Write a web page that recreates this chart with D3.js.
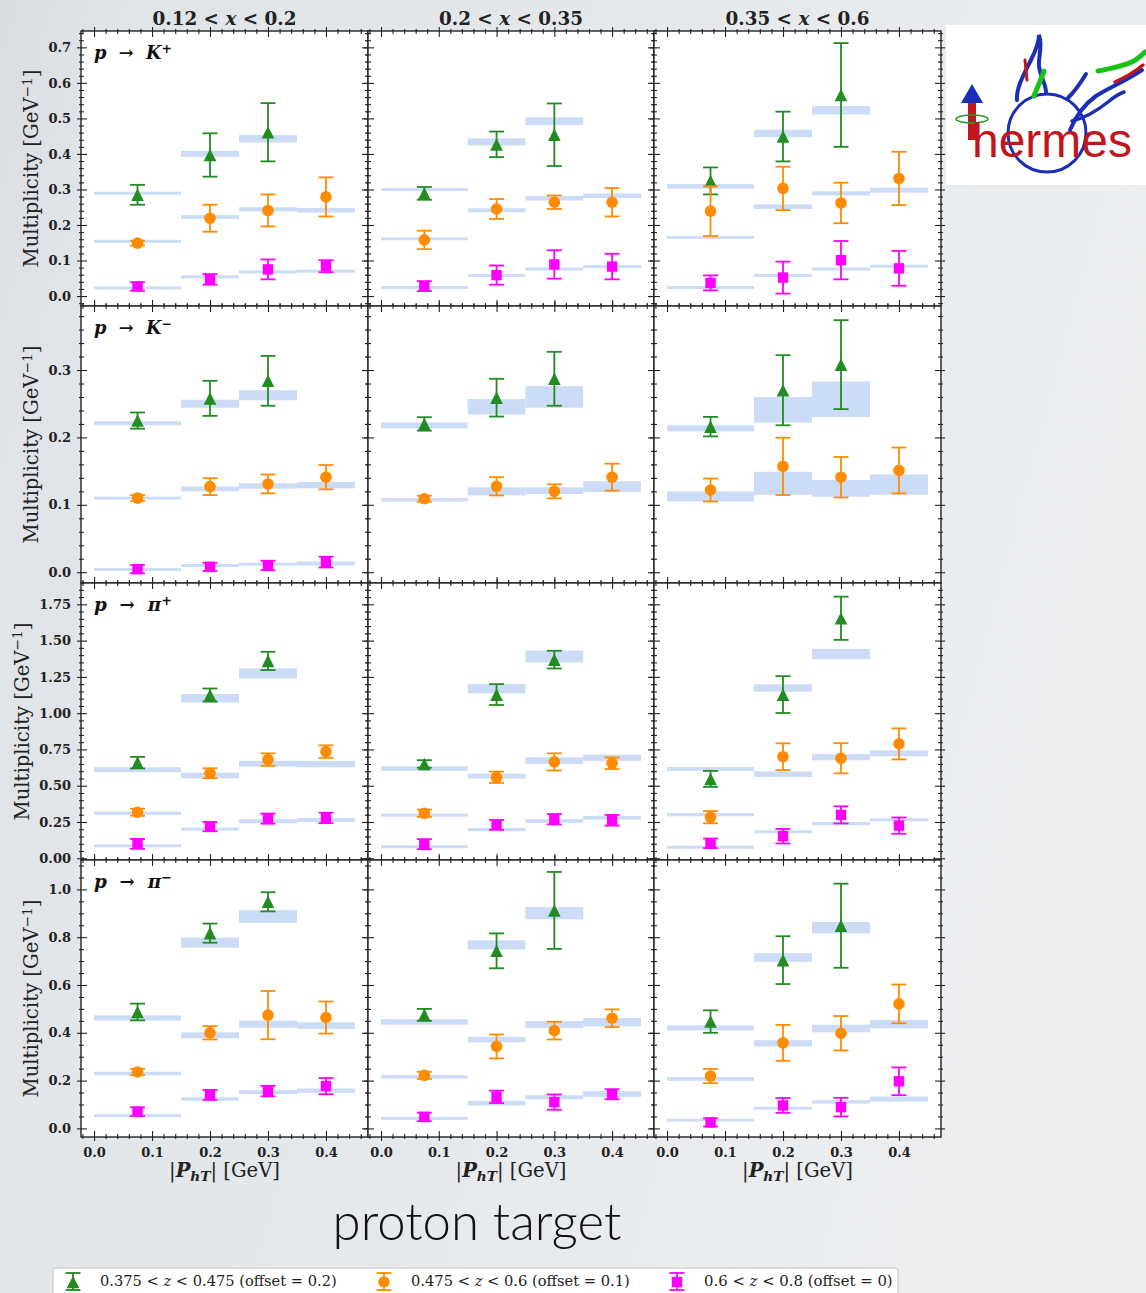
<!DOCTYPE html>
<html>
<head>
<meta charset="utf-8">
<script src="https://cdn.jsdelivr.net/npm/d3@7"></script>
<style>
  body { margin: 0; background: #e6e8eb; }
  svg { display: block; }
</style>
</head>
<body>
<div id="chart"></div>
<script>
// ---- data (values are multiplicities without the plotting offset) ----
const xBins = [[0.12, 0.2], [0.2, 0.35], [0.35, 0.6]];
const ptEdges = [0, 0.15, 0.25, 0.35, 0.45];
const ptCenters = [0.075, 0.2, 0.3, 0.4];
const zBins = [["0.375", "0.475"], ["0.475", "0.6"], ["0.6", "0.8"]];
const zOffsets = [0.2, 0.1, 0];
const xTicks = [0, 0.1, 0.2, 0.3, 0.4];

// hadron labels: [symbol, charge]
const hadrons = [["K", "+"], ["K", "\u2212"], ["\u03c0", "+"], ["\u03c0", "\u2212"]];
const yTicks = [
  [0, 0.1, 0.2, 0.3, 0.4, 0.5, 0.6, 0.7],
  [0, 0.1, 0.2, 0.3],
  [0, 0.25, 0.5, 0.75, 1.0, 1.25, 1.5, 1.75],
  [0, 0.2, 0.4, 0.6, 0.8, 1.0]
];

// layout: [xbin][zbin][ptbin]
// p -> K+
const kpVal = [
  [[0.085, 0.197, 0.261, null], [0.049, 0.119, 0.141, 0.179], [0.027, 0.047, 0.075, 0.084]],
  [[0.089, 0.227, 0.254, null], [0.058, 0.145, 0.164, 0.164], [0.028, 0.059, 0.089, 0.083]],
  [[0.124, 0.249, 0.366, null], [0.139, 0.203, 0.162, 0.231], [0.037, 0.052, 0.101, 0.078]]
];
const kpErr = [
  [[0.028, 0.061, 0.082, null], [0.007, 0.038, 0.045, 0.055], [0.012, 0.015, 0.028, 0.017]],
  [[0.018, 0.036, 0.088, null], [0.026, 0.028, 0.019, 0.040], [0.014, 0.027, 0.040, 0.036]],
  [[0.038, 0.070, 0.146, null], [0.070, 0.061, 0.057, 0.075], [0.021, 0.045, 0.054, 0.049]]
];
const kpModelLo = [
  [[0.087, 0.192, 0.232, null], [0.052, 0.117, 0.138, 0.135], [0.021, 0.052, 0.066, 0.068]],
  [[0.097, 0.224, 0.281, null], [0.059, 0.136, 0.169, 0.176], [0.022, 0.056, 0.074, 0.081]],
  [[0.102, 0.247, 0.311, null], [0.061, 0.145, 0.183, 0.191], [0.022, 0.056, 0.074, 0.082]]
];
const kpModelHi = [
  [[0.092, 0.209, 0.253, null], [0.056, 0.128, 0.150, 0.148], [0.025, 0.056, 0.070, 0.072]],
  [[0.102, 0.244, 0.303, null], [0.063, 0.147, 0.182, 0.189], [0.026, 0.060, 0.078, 0.085]],
  [[0.115, 0.268, 0.335, null], [0.069, 0.158, 0.195, 0.205], [0.026, 0.060, 0.078, 0.086]]
];

// p -> K-
const kmVal = [
  [[0.025, 0.058, 0.084, null], [0.010, 0.027, 0.031, 0.041], [0.0045, 0.008, 0.010, 0.015]],
  [[0.020, 0.059, 0.087, null], [0.009, 0.0275, 0.020, 0.041], [null, null, null, null]],
  [[0.016, 0.070, 0.108, null], [0.022, 0.057, 0.041, 0.051], [null, null, null, null]]
];
const kmErr = [
  [[0.012, 0.026, 0.037, null], [0.0045, 0.0125, 0.014, 0.018], [0.006, 0.006, 0.007, 0.008]],
  [[0.010, 0.028, 0.040, null], [0.0045, 0.0136, 0.0104, 0.020], [null, null, null, null]],
  [[0.0145, 0.052, 0.066, null], [0.017, 0.0425, 0.030, 0.034], [null, null, null, null]]
];
const kmModelLo = [
  [[0.018, 0.044, 0.055, null], [0.009, 0.020, 0.024, 0.0245], [0.003, 0.009, 0.011, 0.010]],
  [[0.0135, 0.034, 0.044, null], [0.005, 0.014, 0.016, 0.019], [null, null, null, null]],
  [[0.009, 0.022, 0.030, null], [0.005, 0.015, 0.012, 0.015], [null, null, null, null]]
];
const kmModelHi = [
  [[0.024, 0.056, 0.070, null], [0.011, 0.027, 0.032, 0.034], [0.005, 0.011, 0.013, 0.016]],
  [[0.0224, 0.057, 0.076, null], [0.010, 0.026, 0.026, 0.035], [null, null, null, null]],
  [[0.018, 0.060, 0.083, null], [0.020, 0.049, 0.037, 0.045], [null, null, null, null]]
];

// p -> pi+
const pipVal = [
  [[0.459, 0.925, 1.160, null], [0.217, 0.486, 0.580, 0.635], [0.099, 0.218, 0.273, 0.278]],
  [[0.450, 0.928, 1.169, null], [0.210, 0.458, 0.564, 0.555], [0.097, 0.230, 0.269, 0.262]],
  [[0.347, 0.928, 1.454, null], [0.183, 0.600, 0.589, 0.688], [0.103, 0.152, 0.299, 0.225]]
];
const pipErr = [
  [[0.040, 0.045, 0.063, null], [0.024, 0.034, 0.043, 0.043], [0.034, 0.032, 0.035, 0.036]],
  [[0.026, 0.072, 0.061, null], [0.025, 0.039, 0.059, 0.040], [0.035, 0.034, 0.036, 0.037]],
  [[0.055, 0.127, 0.149, null], [0.042, 0.092, 0.104, 0.107], [0.033, 0.050, 0.059, 0.056]]
];
const pipModelLo = [
  [[0.393, 0.873, 1.040, null], [0.199, 0.451, 0.532, 0.527], [0.080, 0.191, 0.241, 0.250]],
  [[0.402, 0.937, 1.150, null], [0.187, 0.449, 0.550, 0.571], [0.074, 0.186, 0.244, 0.266]],
  [[0.402, 0.948, 1.171, null], [0.189, 0.460, 0.575, 0.603], [0.069, 0.172, 0.227, 0.255]]
];
const pipModelHi = [
  [[0.427, 0.932, 1.109, null], [0.222, 0.490, 0.571, 0.571], [0.092, 0.211, 0.269, 0.278]],
  [[0.434, 1.001, 1.231, null], [0.208, 0.483, 0.596, 0.614], [0.085, 0.209, 0.269, 0.292]],
  [[0.429, 0.999, 1.242, null], [0.212, 0.499, 0.617, 0.644], [0.083, 0.193, 0.250, 0.276]]
];

// p -> pi-
const pimVal = [
  [[0.287, 0.617, 0.748, null], [0.136, 0.300, 0.374, 0.364], [0.070, 0.140, 0.156, 0.177]],
  [[0.275, 0.543, 0.712, null], [0.122, 0.243, 0.309, 0.361], [0.048, 0.132, 0.110, 0.143]],
  [[0.247, 0.504, 0.648, null], [0.119, 0.258, 0.298, 0.421], [0.025, 0.096, 0.089, 0.197]]
];
const pimErr = [
  [[0.035, 0.040, 0.040, null], [0.013, 0.028, 0.101, 0.067], [0.018, 0.021, 0.022, 0.034]],
  [[0.025, 0.073, 0.161, null], [0.015, 0.050, 0.037, 0.037], [0.018, 0.026, 0.032, 0.021]],
  [[0.047, 0.100, 0.176, null], [0.030, 0.075, 0.072, 0.081], [0.017, 0.031, 0.039, 0.058]]
];
const pimModelLo = [
  [[0.251, 0.556, 0.660, null], [0.122, 0.277, 0.321, 0.316], [0.050, 0.116, 0.144, 0.149]],
  [[0.234, 0.549, 0.675, null], [0.108, 0.260, 0.320, 0.327], [0.038, 0.096, 0.122, 0.132]],
  [[0.210, 0.497, 0.616, null], [0.099, 0.243, 0.302, 0.319], [0.031, 0.079, 0.104, 0.112]]
];
const pimModelHi = [
  [[0.273, 0.598, 0.713, null], [0.137, 0.302, 0.351, 0.344], [0.057, 0.130, 0.160, 0.167]],
  [[0.257, 0.587, 0.726, null], [0.123, 0.283, 0.349, 0.362], [0.046, 0.115, 0.139, 0.156]],
  [[0.231, 0.533, 0.664, null], [0.115, 0.269, 0.334, 0.354], [0.038, 0.090, 0.118, 0.133]]
];

const panelRows = [
  { val: kpVal, err: kpErr, lo: kpModelLo, hi: kpModelHi },
  { val: kmVal, err: kmErr, lo: kmModelLo, hi: kmModelHi },
  { val: pipVal, err: pipErr, lo: pipModelLo, hi: pipModelHi },
  { val: pimVal, err: pimErr, lo: pimModelLo, hi: pimModelHi }
];

// ---- look ----
const W = 1146, H = 1293;
const colLeft = [81, 368, 654], colRight = [368, 654, 941];
const rowTop = [31, 306, 583, 860], rowBottom = [306, 583, 860, 1137];
const xDomain = [-0.0225, 0.4725];
const yDomains = [[-0.028, 0.746], [-0.016, 0.395], [-0.012, 1.897], [-0.036, 1.123]];
const yMinorStep = [0.02, 0.02, 0.05, 0.05];
const yFormats = ['.1f', '.1f', '.2f', '.1f'];
const colors = ['#228b22', '#ff8c00', '#ff00ff'];
const bandColor = '#cddcf6';
const serif = "'DejaVu Serif', serif";
const ink = '#222';

const svg = d3.select('#chart').append('svg')
  .attr('width', W).attr('height', H);

// slide-like background
const defs = svg.append('defs');
const bg = defs.append('linearGradient').attr('id', 'bg')
  .attr('x1', 0).attr('x2', 1).attr('y1', 0).attr('y2', 0.3);
bg.append('stop').attr('offset', '0%').attr('stop-color', '#d9dce0');
bg.append('stop').attr('offset', '10%').attr('stop-color', '#e0e3e7');
bg.append('stop').attr('offset', '100%').attr('stop-color', '#eceef0');
svg.append('rect').attr('width', W).attr('height', H).attr('fill', 'url(#bg)');

function fitWidth(sel, target) {
  const w = sel.node().getComputedTextLength();
  const fs = parseFloat(sel.attr('font-size'));
  sel.attr('font-size', fs * target / w);
}

// make d3 ticks cross the spine (matplotlib "inout")
function inoutTicks(ag, attr, inner) {
  ag.select('.domain').remove();
  ag.selectAll('.tick line').attr(attr, inner).attr('stroke', ink).attr('stroke-width', 1.1);
}

function minorValues(domain, step, majors) {
  const start = Math.ceil(domain[0] / step) * step;
  return d3.range(start, domain[1], step)
    .filter(v => !majors.some(m => Math.abs(m - v) < step / 10));
}

function drawMarker(g, k, cx, cy, color) {
  if (k === 0) {
    g.append('path')
      .attr('d', `M${cx},${cy - 6.3}L${cx + 6.3},${cy + 6.3}L${cx - 6.3},${cy + 6.3}Z`)
      .attr('fill', color);
  } else if (k === 1) {
    g.append('circle').attr('cx', cx).attr('cy', cy).attr('r', 5.8).attr('fill', color);
  } else {
    g.append('rect').attr('x', cx - 5.2).attr('y', cy - 5.2)
      .attr('width', 10.4).attr('height', 10.4).attr('fill', color);
  }
}

function drawErrorbar(g, k, cx, cy, yTop, yBot) {
  const c = colors[k], cap = 7.5;
  g.append('line').attr('x1', cx).attr('x2', cx).attr('y1', yTop).attr('y2', yBot)
    .attr('stroke', c).attr('stroke-width', 1.8);
  [yTop, yBot].forEach(yy => g.append('line')
    .attr('x1', cx - cap).attr('x2', cx + cap).attr('y1', yy).attr('y2', yy)
    .attr('stroke', c).attr('stroke-width', 1.8));
  drawMarker(g, k, cx, cy, c);
}

panelRows.forEach((h, r) => {
  xBins.forEach((xb, c) => {
    const w = colRight[c] - colLeft[c];
    const ht = rowBottom[r] - rowTop[r];
    const g = svg.append('g').attr('transform', `translate(${colLeft[c]},${rowTop[r]})`);
    const x = d3.scaleLinear().domain(xDomain).range([0, w]);
    const y = d3.scaleLinear().domain(yDomains[r]).range([ht, 0]);

    g.append('rect').attr('width', w).attr('height', ht).attr('fill', '#fff');

    // model bands
    zOffsets.forEach((off, k) => {
      h.lo[c][k].forEach((lo, i) => {
        const hi = h.hi[c][k][i];
        if (lo == null) return;
        const y0 = y(hi + off), y1 = y(lo + off);
        const hh = Math.max(y1 - y0, 3);
        g.append('rect')
          .attr('x', x(ptEdges[i])).attr('width', x(ptEdges[i + 1]) - x(ptEdges[i]))
          .attr('y', (y0 + y1) / 2 - hh / 2).attr('height', hh)
          .attr('fill', bandColor);
      });
    });

    // axes, major and minor, on all four sides
    const yMin = minorValues(yDomains[r], yMinorStep[r], yTicks[r]);
    const xMin = minorValues(xDomain, 0.02, xTicks);
    const showY = c === 0, showX = r === panelRows.length - 1;

    const left = g.append('g').call(d3.axisLeft(y).tickValues(yTicks[r]).tickSize(4).tickPadding(6)
      .tickFormat(showY ? d3.format(yFormats[r]) : ''));
    inoutTicks(left, 'x1', 6);
    inoutTicks(g.append('g').call(d3.axisLeft(y).tickValues(yMin).tickSize(2).tickFormat('')), 'x1', 3);
    const right = g.append('g').attr('transform', `translate(${w},0)`);
    right.call(d3.axisRight(y).tickValues(yTicks[r]).tickSize(4).tickFormat(''));
    inoutTicks(right, 'x1', -6);
    const rightMin = g.append('g').attr('transform', `translate(${w},0)`);
    rightMin.call(d3.axisRight(y).tickValues(yMin).tickSize(2).tickFormat(''));
    inoutTicks(rightMin, 'x1', -3);

    const bottom = g.append('g').attr('transform', `translate(0,${ht})`);
    bottom.call(d3.axisBottom(x).tickValues(xTicks).tickSize(4).tickPadding(7)
      .tickFormat(showX ? d3.format('.1f') : ''));
    inoutTicks(bottom, 'y1', -6);
    const bottomMin = g.append('g').attr('transform', `translate(0,${ht})`);
    bottomMin.call(d3.axisBottom(x).tickValues(xMin).tickSize(2).tickFormat(''));
    inoutTicks(bottomMin, 'y1', -3);
    inoutTicks(g.append('g').call(d3.axisTop(x).tickValues(xTicks).tickSize(4).tickFormat('')), 'y1', 6);
    inoutTicks(g.append('g').call(d3.axisTop(x).tickValues(xMin).tickSize(2).tickFormat('')), 'y1', 3);

    [left, bottom].forEach(ag => ag.selectAll('text')
      .attr('font-family', serif).attr('font-weight', 'bold')
      .attr('font-size', 13).attr('fill', ink));

    g.append('rect').attr('width', w).attr('height', ht)
      .attr('fill', 'none').attr('stroke', ink).attr('stroke-width', 1.4);

    // data points with statistical errors
    zOffsets.forEach((off, k) => {
      h.val[c][k].forEach((v, i) => {
        if (v == null) return;
        const e = h.err[c][k][i];
        drawErrorbar(g, k, x(ptCenters[i]), y(v + off), y(v + off + e), y(v + off - e));
      });
    });

    // column title
    if (r === 0) {
      const t = svg.append('text')
        .attr('x', (colLeft[c] + colRight[c]) / 2).attr('y', 25)
        .attr('text-anchor', 'middle').attr('font-family', serif)
        .attr('font-weight', 'bold').attr('font-size', 16).attr('fill', ink);
      t.append('tspan').text(`${xb[0]} < `);
      t.append('tspan').attr('font-style', 'italic').text('x');
      t.append('tspan').text(` < ${xb[1]}`);
      fitWidth(t, 144);
    }

    // x axis title
    if (showX) {
      const t = svg.append('text')
        .attr('x', (colLeft[c] + colRight[c]) / 2).attr('y', 1177)
        .attr('text-anchor', 'middle').attr('font-family', serif)
        .attr('font-size', 18).attr('fill', ink);
      t.append('tspan').text('|');
      t.append('tspan').attr('font-style', 'italic').attr('font-weight', 'bold').text('P');
      t.append('tspan').attr('font-style', 'italic').attr('font-weight', 'bold')
        .attr('font-size', '0.7em').attr('dy', '0.3em').text('hT');
      t.append('tspan').attr('dy', '-0.21em').text('| [GeV]');
      fitWidth(t, 111);
    }

    if (showY) {
      // reaction label
      const a = g.append('text').attr('x', 13).attr('y', 28)
        .attr('font-family', serif).attr('font-weight', 'bold')
        .attr('font-size', 15).attr('fill', '#111');
      a.append('tspan').attr('font-style', 'italic').text('p');
      a.append('tspan').text('  \u2192  ');
      a.append('tspan').attr('font-style', 'italic').text(hadrons[r][0]);
      a.append('tspan').attr('font-size', '0.7em').attr('dy', '-0.45em').text(hadrons[r][1]);
      a.attr('xml:space', 'preserve').style('white-space', 'pre');
      fitWidth(a, 78);

      // y axis title placed left of the tick labels
      const minX = d3.min(left.selectAll('text').nodes(), n => n.getBBox().x);
      const yl = g.append('text')
        .attr('transform', `translate(${minX - 10},${ht / 2}) rotate(-90)`)
        .attr('text-anchor', 'middle').attr('font-family', serif)
        .attr('font-size', 17).attr('fill', ink);
      yl.append('tspan').text('Multiplicity [GeV');
      yl.append('tspan').attr('font-size', '0.7em').attr('dy', '-0.5em').text('\u22121');
      yl.append('tspan').attr('dy', '0.35em').text(']');
      fitWidth(yl, 198);
    }
  });
});

// big slide caption
const cap = svg.append('text').attr('x', 477).attr('y', 1240)
  .attr('text-anchor', 'middle').attr('font-family', "Lato, 'Open Sans', sans-serif")
  .attr('font-weight', 300)
  .attr('font-size', 50).attr('fill', '#111').text('proton target');
fitWidth(cap, 289);

// legend
const legend = svg.append('g');
legend.append('rect').attr('x', 53).attr('y', 1268).attr('width', 845).attr('height', 40)
  .attr('rx', 3).attr('fill', '#fff').attr('stroke', '#c4c4c4');
const legendMarkX = [73, 384, 677];
const legendTextX = [100, 411, 704];
const legendTextW = [237, 219, 189];
zBins.forEach((zb, k) => {
  drawErrorbar(legend, k, legendMarkX[k], 1282, 1273, 1290);
  const t = legend.append('text').attr('x', legendTextX[k]).attr('y', 1286)
    .attr('font-family', serif).attr('font-size', 12).attr('fill', ink);
  t.append('tspan').text(`${zb[0]} < `);
  t.append('tspan').attr('font-style', 'italic').text('z');
  t.append('tspan').text(` < ${zb[1]} (offset = ${zOffsets[k]})`);
  fitWidth(t, legendTextW[k]);
});

// experiment logo
const logo = svg.append('g');
logo.append('rect').attr('x', 946).attr('y', 25).attr('width', 200).attr('height', 160).attr('fill', '#fff');
logo.append('circle').attr('cx', 1047).attr('cy', 133).attr('r', 39)
  .attr('fill', 'none').attr('stroke', '#1a2fb5').attr('stroke-width', 3);
logo.append('rect').attr('x', 968).attr('y', 100).attr('width', 8).attr('height', 40).attr('fill', '#c0161c');
logo.append('path').attr('d', 'M972,84L983,103L961,103Z').attr('fill', '#1a2fb5');
logo.append('ellipse').attr('cx', 972).attr('cy', 119).attr('rx', 16).attr('ry', 4)
  .attr('fill', 'none').attr('stroke', '#2a9a2a').attr('stroke-width', 1.5);
const hm = logo.append('text').attr('x', 972).attr('y', 157)
  .attr('font-family', "'Liberation Sans', Arial, sans-serif").attr('font-size', 52)
  .attr('fill', '#c0161c').text('hermes');
fitWidth(hm, 160);
const stroke = (d, col, wd) => logo.append('path').attr('d', d).attr('fill', 'none')
  .attr('stroke', col).attr('stroke-width', wd).attr('stroke-linecap', 'round');
stroke('M1017,100C1016,88 1024,74 1031,60C1036,50 1039,42 1039,35C1043,45 1038,58 1039,66C1040,76 1046,84 1046,92', '#1a2fb5', 4);
stroke('M1034,96C1037,88 1041,80 1044,71', '#19c219', 5);
stroke('M1025,60L1027,80', '#c0161c', 3);
stroke('M1070,130C1075,118 1082,106 1096,96C1108,88 1124,82 1142,70', '#1a2fb5', 4);
stroke('M1072,121C1085,118 1098,110 1108,102C1114,97 1118,94 1124,92', '#1a2fb5', 3.5);
stroke('M1068,98C1074,92 1080,84 1086,74', '#1a2fb5', 4);
stroke('M1098,71C1108,69 1122,67 1134,61C1139,58 1142,55 1145,52', '#19c219', 5);
stroke('M1115,82C1124,78 1132,74 1143,65', '#c0161c', 3.5);
</script>
</body>
</html>
